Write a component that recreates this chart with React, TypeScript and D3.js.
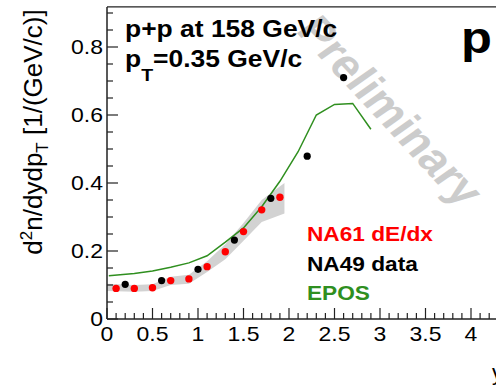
import React, { useEffect, useRef } from "react";
import * as d3 from "d3";

// NA61 dE/dx points
const na61X = [0.1, 0.3, 0.5, 0.7, 0.9, 1.1, 1.3, 1.5, 1.7, 1.9];
const na61Y = [0.09, 0.09, 0.092, 0.113, 0.118, 0.154, 0.198, 0.257, 0.321, 0.358];
// systematic band around NA61
const bandX = [0.0, 0.3, 0.5, 0.7, 0.9, 1.1, 1.3, 1.5, 1.7, 1.95];
const bandHi = [0.104, 0.1, 0.102, 0.124, 0.13, 0.17, 0.22, 0.282, 0.35, 0.4];
const bandLo = [0.082, 0.08, 0.082, 0.1, 0.104, 0.138, 0.176, 0.23, 0.285, 0.31];
// NA49 data
const na49X = [0.2, 0.6, 1.0, 1.4, 1.8, 2.2, 2.6];
const na49Y = [0.102, 0.113, 0.146, 0.232, 0.355, 0.479, 0.71];
// EPOS model
const eposX = [0.02, 0.3, 0.5, 0.7, 0.9, 1.1, 1.3, 1.5, 1.7, 1.9, 2.1, 2.3, 2.5, 2.7, 2.9];
const eposY = [0.127, 0.134, 0.141, 0.152, 0.165, 0.186, 0.226, 0.268, 0.33, 0.405, 0.492, 0.6, 0.631, 0.634, 0.558];

const xTickLabels = [0, 0.5, 1, 1.5, 2, 2.5, 3, 3.5, 4];
const yTickLabels = [0, 0.2, 0.4, 0.6, 0.8];
const legend = [
  { label: "NA61 dE/dx", color: "#ff0000" },
  { label: "NA49 data", color: "#000000" },
  { label: "EPOS", color: "#2f8f1f" },
];

const W = 496;
const H = 385;
const FONT = "'Liberation Sans', Arial, Helvetica, sans-serif";
const SX = 1.15; // picture is a bit wider than tall

const App = () => {
  const svgRef = useRef<SVGSVGElement>(null);

  useEffect(() => {
    const svg = d3.select(svgRef.current);
    svg.selectAll("*").remove();

    const x = d3.scaleLinear().domain([0, 4]).range([107, 471]);
    const y = d3.scaleLinear().domain([0, 0.8]).range([319, 47]);
    const xMax = 4.4;
    const yMax = 0.918;

    // text with a small horizontal stretch
    const stretched = (px: number, py: number, rot = 0) =>
      svg.append("g").attr("transform", `translate(${px},${py}) scale(${SX},1) rotate(${rot})`);

    // watermark
    stretched(295, 31, 51)
      .append("text")
      .attr("font-family", FONT)
      .attr("font-weight", "bold")
      .attr("font-size", 42)
      .attr("fill", "#cccccc")
      .text("Preliminary");

    // band
    const area = d3
      .area<number>()
      .x((d, i) => x(bandX[i]))
      .y0((d, i) => y(bandLo[i]))
      .y1((d) => y(d));
    svg.append("path").datum(bandHi).attr("d", area).attr("fill", "#d2d2d2");

    // EPOS line
    const line = d3
      .line<number>()
      .x((d, i) => x(eposX[i]))
      .y((d) => y(d));
    svg
      .append("path")
      .datum(eposY)
      .attr("d", line)
      .attr("fill", "none")
      .attr("stroke", legend[2].color)
      .attr("stroke-width", 1.5);

    svg
      .selectAll(".na61")
      .data(na61Y)
      .join("circle")
      .attr("cx", (d, i) => x(na61X[i]))
      .attr("cy", (d) => y(d))
      .attr("r", 3.7)
      .attr("fill", legend[0].color);

    svg
      .selectAll(".na49")
      .data(na49Y)
      .join("circle")
      .attr("cx", (d, i) => x(na49X[i]))
      .attr("cy", (d) => y(d))
      .attr("r", 3.6)
      .attr("fill", legend[1].color);

    // frame
    const ax = svg.append("g").attr("stroke", "#222").attr("fill", "none");
    ax.append("line").attr("x1", x(0)).attr("x2", x(xMax)).attr("y1", y(0)).attr("y2", y(0)).attr("stroke-width", 1.5);
    ax.append("line").attr("x1", x(0)).attr("x2", x(0)).attr("y1", y(0)).attr("y2", y(yMax)).attr("stroke-width", 1.5);
    ax.append("line").attr("x1", x(0)).attr("x2", x(xMax)).attr("y1", y(yMax)).attr("y2", y(yMax)).attr("stroke-width", 1.1);

    const xTicks = d3.range(0, 43).map((i) => i / 10);
    ax.selectAll(".xt")
      .data(xTicks)
      .join("line")
      .attr("x1", (d) => x(d))
      .attr("x2", (d) => x(d))
      .attr("y1", y(0))
      .attr("y2", (d, i) => y(0) - (i % 5 === 0 ? 11 : 6))
      .attr("stroke-width", 1.2);

    const yTicks = d3.range(0, 19).map((i) => i * 0.05);
    ax.selectAll(".yt")
      .data(yTicks)
      .join("line")
      .attr("x1", x(0))
      .attr("x2", (d, i) => x(0) + (i % 4 === 0 ? 11 : 6))
      .attr("y1", (d) => y(d))
      .attr("y2", (d) => y(d))
      .attr("stroke-width", 1.2);

    xTickLabels.forEach((t) => {
      stretched(x(t), 341)
        .append("text")
        .attr("text-anchor", "middle")
        .attr("font-family", FONT)
        .attr("font-size", 20)
        .text(String(t));
    });
    yTickLabels.forEach((t) => {
      stretched(103, y(t) + 7)
        .append("text")
        .attr("text-anchor", "end")
        .attr("font-family", FONT)
        .attr("font-size", 20)
        .text(String(t));
    });

    // y title
    const yt = svg
      .append("text")
      .attr("transform", `translate(42,132) rotate(-90)`)
      .attr("text-anchor", "middle")
      .attr("font-family", FONT)
      .attr("font-size", 26);
    yt.append("tspan").text("d");
    yt.append("tspan").attr("font-size", 17).attr("dy", -10).text("2");
    yt.append("tspan").attr("dy", 10).text("n/dydp");
    yt.append("tspan").attr("font-size", 17).attr("dy", 6).text("T");
    yt.append("tspan").attr("dy", -6).text(" [1/(GeV/c)]");

    // x title, mostly beyond the right edge
    svg.append("text").attr("x", 492).attr("y", 380).attr("font-family", FONT).attr("font-size", 22).text("y");

    // labels
    stretched(125, 37)
      .append("text")
      .attr("font-family", FONT)
      .attr("font-weight", "bold")
      .attr("font-size", 23)
      .text("p+p at 158 GeV/c");
    const l2 = stretched(125, 67)
      .append("text")
      .attr("font-family", FONT)
      .attr("font-weight", "bold")
      .attr("font-size", 23);
    l2.append("tspan").text("p");
    l2.append("tspan").attr("font-size", 17).attr("dy", 14).text("T");
    l2.append("tspan").attr("dy", -14).text("=0.35 GeV/c");

    stretched(461, 53)
      .append("text")
      .attr("font-family", FONT)
      .attr("font-weight", "bold")
      .attr("font-size", 44)
      .text("p");

    legend.forEach((l, i) => {
      svg
        .append("g")
        .attr("transform", `translate(307,${241 + i * 29.5}) scale(1.08,1)`)
        .append("text")
        .attr("font-family", FONT)
        .attr("font-weight", "bold")
        .attr("font-size", 21)
        .attr("fill", l.color)
        .text(l.label);
    });
  }, []);

  return (
    <svg
      ref={svgRef}
      width={W}
      height={H}
      style={{ position: "absolute", left: 0, top: 0, background: "#fff" }}
    ></svg>
  );
};

export default App;
